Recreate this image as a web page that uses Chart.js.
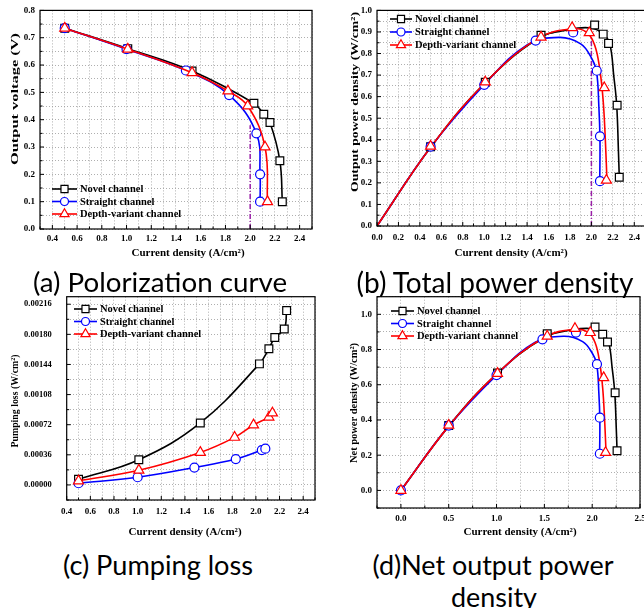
<!DOCTYPE html>
<html><head><meta charset="utf-8">
<script src="https://cdn.jsdelivr.net/npm/chart.js@4/dist/chart.umd.min.js"></script>
<style>
html,body{margin:0;padding:0;background:#fff;overflow:hidden;width:644px;height:608px;position:relative;}
canvas{position:absolute;}
.sub{position:absolute;font-family:Lato,"Open Sans",sans-serif;font-size:27px;color:#000;white-space:nowrap;transform:translate(-50%,-50%);line-height:1;}
</style></head><body>
<canvas id="ca" width="322" height="265" style="left:0;top:0;width:322px;height:265px"></canvas>
<canvas id="cb" width="330" height="265" style="left:322px;top:0;width:330px;height:265px"></canvas>
<canvas id="cc" width="322" height="280" style="left:0;top:265px;width:322px;height:280px"></canvas>
<canvas id="cd" width="330" height="280" style="left:322px;top:265px;width:330px;height:280px"></canvas>
<div class="sub" id="sa" data-w="254" style="left:160px;top:282px">(a) Polorization curve</div>
<div class="sub" id="sb" data-w="277" style="left:495px;top:282px">(b) Total power density</div>
<div class="sub" id="sc" data-w="190" style="left:158px;top:565px">(c) Pumping loss</div>
<div class="sub" id="sd" data-w="241" style="left:493px;top:565px">(d)Net output power</div>
<div class="sub" id="sd2" style="left:494px;top:597px">density</div>
<script>
// ---------- data ----------
const seriesNames = ['Novel channel', 'Straight channel', 'Depth-variant channel'];

// (a) polarization curve: current density (A/cm2) vs output voltage (V)
const aNovelX = [0.5, 1.01, 1.53, 2.03, 2.11, 2.16, 2.24, 2.26];
const aNovelV = [0.735, 0.66, 0.578, 0.46, 0.42, 0.39, 0.25, 0.10];
const aStraightX = [0.5, 1.0, 1.48, 1.83, 2.05, 2.08, 2.08];
const aStraightV = [0.735, 0.658, 0.58, 0.49, 0.35, 0.20, 0.10];
const aDepthX = [0.5, 1.01, 1.53, 1.82, 1.98, 2.12, 2.14];
const aDepthV = [0.735, 0.658, 0.572, 0.505, 0.45, 0.30, 0.10];
const aRefX = [2.0, 2.0];
const aRefY = [0.0, 0.38];

// (b) total power density (W/cm2) markers
const bNovelX = [0.5, 1.01, 1.53, 2.03, 2.11, 2.16, 2.24, 2.26];
const bNovelP = [0.368, 0.667, 0.885, 0.932, 0.89, 0.847, 0.56, 0.226];
const bStraightX = [0.5, 1.0, 1.48, 1.83, 2.05, 2.08, 2.08];
const bStraightP = [0.368, 0.655, 0.86, 0.898, 0.72, 0.416, 0.208];
const bDepthX = [0.5, 1.01, 1.53, 1.82, 1.98, 2.12, 2.14];
const bDepthP = [0.37, 0.668, 0.876, 0.92, 0.896, 0.641, 0.212];
// (b) fitted curves
const bNovelCurveX = [0, 0.5, 1.0, 1.5, 1.8, 2.0, 2.11, 2.17, 2.21, 2.236, 2.252, 2.26];
const bNovelCurveY = [0, 0.365, 0.66, 0.868, 0.912, 0.918, 0.89, 0.848, 0.69, 0.56, 0.35, 0.226];
const bStraightCurveX = [0, 0.5, 1.0, 1.4, 1.7, 1.9, 2.0, 2.047, 2.07, 2.08, 2.078];
const bStraightCurveY = [0, 0.365, 0.655, 0.84, 0.875, 0.845, 0.78, 0.719, 0.55, 0.4, 0.208];
const bDepthCurveX = [0, 0.5, 1.0, 1.5, 1.82, 1.95, 2.03, 2.08, 2.11, 2.13, 2.145];
const bDepthCurveY = [0, 0.365, 0.66, 0.87, 0.915, 0.9, 0.84, 0.72, 0.58, 0.4, 0.212];
const bRefX = [2.0, 2.0];
const bRefY = [0.0, 0.88];

// (c) pumping loss (W/cm2)
const cNovelX = [0.5, 1.01, 1.53, 2.03, 2.11, 2.16, 2.24, 2.26];
const cNovelL = [0.000068, 0.000301, 0.000741, 0.001447, 0.001627, 0.001763, 0.001863, 0.002084];
const cStraightX = [0.5, 1.0, 1.48, 1.83, 2.05, 2.08];
const cStraightL = [0.00002, 0.000092, 0.000208, 0.000309, 0.000417, 0.000433];
const cDepthX = [0.5, 1.01, 1.53, 1.82, 1.98, 2.11, 2.14];
const cDepthL = [0.000048, 0.000176, 0.000389, 0.000569, 0.000717, 0.00081, 0.00086];

// (d) net output power density (W/cm2)
const dNovelX = [0.5, 1.01, 1.53, 2.03, 2.11, 2.16, 2.24, 2.26];
const dNovelP = [0.368, 0.667, 0.89, 0.928, 0.887, 0.843, 0.555, 0.225];
const dStraightX = [0, 0.5, 1.0, 1.48, 1.83, 2.05, 2.08, 2.08];
const dStraightP = [0, 0.368, 0.655, 0.858, 0.896, 0.717, 0.413, 0.208];
const dDepthX = [0, 0.5, 1.01, 1.53, 1.82, 1.98, 2.12, 2.14];
const dDepthP = [0, 0.37, 0.664, 0.875, 0.919, 0.896, 0.64, 0.215];
const dNovelCurveX = [0, 0.5, 1.0, 1.5, 1.8, 2.0, 2.11, 2.17, 2.21, 2.236, 2.252, 2.26];
const dNovelCurveY = [0, 0.365, 0.66, 0.868, 0.912, 0.918, 0.888, 0.845, 0.69, 0.555, 0.35, 0.225];
const dStraightCurveX = [0, 0.5, 1.0, 1.4, 1.7, 1.9, 2.0, 2.047, 2.07, 2.08, 2.078];
const dStraightCurveY = [0, 0.365, 0.655, 0.84, 0.875, 0.845, 0.78, 0.717, 0.55, 0.4, 0.208];
const dDepthCurveX = [0, 0.5, 1.0, 1.5, 1.82, 1.95, 2.03, 2.08, 2.11, 2.13, 2.145];
const dDepthCurveY = [0, 0.365, 0.66, 0.87, 0.915, 0.9, 0.84, 0.72, 0.58, 0.4, 0.215];

// ---------- styling helpers ----------
const COLORS = ['#000000', '#0000ff', '#ff0000'];
const STYLES = ['rect', 'circle', 'triangle'];
const RADII = [5.5, 4.5, 5.8];
const SERIF = '"Liberation Serif", "Times New Roman", serif';

const pts = (xs, ys) => xs.map((x, i) => ({x: x, y: ys[i]}));

function markerSet(i, xs, ys, withLine) {
  return {
    data: pts(xs, ys), showLine: !!withLine, tension: 0.4,
    borderColor: COLORS[i], borderWidth: 1.6,
    pointStyle: STYLES[i], pointRadius: RADII[i], pointHoverRadius: RADII[i],
    pointBackgroundColor: '#ffffff', pointBorderColor: COLORS[i], pointBorderWidth: 1.2,
    order: 2 - i
  };
}
function curveSet(i, xs, ys) {
  return {data: pts(xs, ys), showLine: true, tension: 0.4, borderColor: COLORS[i], borderWidth: 1.6,
          pointRadius: 0, order: 12 - i};
}
function refSet(xs, ys) {
  return {data: pts(xs, ys), showLine: true, borderColor: '#9a1fa8', borderWidth: 1.5,
          borderDash: [5, 2, 1, 2], pointRadius: 0, order: 20};
}

function axis(min, max, step, labelEvery, decimals, pad, fitProp, fitVal, fontSize) {
  const m = Math.round(labelEvery / step);
  return {
    type: 'linear', min: min, max: max,
    ticks: {
      stepSize: step, includeBounds: false, autoSkip: false, maxRotation: 0, minRotation: 0, padding: pad, color: '#000',
      font: {family: SERIF, weight: 'bold', size: fontSize || 9},
      callback: (v) => {
        const k = Math.round(v / step);
        return (Math.abs(v - k * step) < step * 1e-3 && k % m === 0) ? v.toFixed(decimals) : '';
      }
    },
    grid: {color: '#9a9a9a', lineWidth: 0.8, drawTicks: false},
    border: {display: false, dash: [1, 2]},
    afterFit: (s) => { s[fitProp] = fitVal; }
  };
}

const panelPlugin = {
  id: 'panel',
  afterDraw(chart, args, o) {
    const ctx = chart.ctx, ca = chart.chartArea;
    const xs = chart.scales.x, ys = chart.scales.y;
    ctx.save();
    ctx.setLineDash([]);
    ctx.strokeStyle = '#000';
    ctx.lineWidth = 1.2;
    ctx.strokeRect(ca.left, ca.top, ca.right - ca.left, ca.bottom - ca.top);
    ctx.lineWidth = 1;
    xs.ticks.forEach(t => {
      const p = xs.getPixelForValue(t.value);
      const L = t.label ? 4 : 2.5;
      ctx.beginPath(); ctx.moveTo(p, ca.bottom); ctx.lineTo(p, ca.bottom - L); ctx.stroke();
    });
    ys.ticks.forEach(t => {
      const p = ys.getPixelForValue(t.value);
      const L = t.label ? 4 : 2.5;
      ctx.beginPath(); ctx.moveTo(ca.left, p); ctx.lineTo(ca.left + L, p); ctx.stroke();
    });
    // x title
    ctx.fillStyle = '#000';
    ctx.textAlign = 'center';
    ctx.textBaseline = 'middle';
    ctx.font = 'bold 11px ' + SERIF;
    ctx.fillText(o.xTitle, o.xTitleX, o.xTitleY);
    // y title (stretched along its length as in the figure)
    ctx.save();
    ctx.translate(o.yTitleX, o.yTitleY);
    ctx.rotate(-Math.PI / 2);
    ctx.font = 'bold ' + o.yTitleSize + 'px ' + SERIF;
    const w = ctx.measureText(o.yTitle).width;
    ctx.scale(o.yTitleLen / w, 1);
    ctx.fillText(o.yTitle, 0, 0);
    ctx.restore();
    // legend
    ctx.font = 'bold 10.5px ' + SERIF;
    ctx.textAlign = 'left';
    seriesNames.forEach((name, i) => {
      const y = o.legY + i * o.legDy;
      ctx.strokeStyle = COLORS[i];
      ctx.lineWidth = 1.6;
      ctx.beginPath(); ctx.moveTo(o.legX0, y); ctx.lineTo(o.legX1, y); ctx.stroke();
      ctx.fillStyle = '#ffffff';
      ctx.strokeStyle = COLORS[i];
      ctx.lineWidth = 1.2;
      Chart.helpers.drawPoint(ctx, {pointStyle: STYLES[i], rotation: 0, radius: RADII[i] - 0.5, borderWidth: 1.2},
        (o.legX0 + o.legX1) / 2, y);
      ctx.fillStyle = '#000';
      ctx.fillText(name, o.legX1 + 3, y + 0.5);
    });
    ctx.restore();
  }
};

function make(id, datasets, xAxis, yAxis, padding, panel) {
  return new Chart(document.getElementById(id), {
    type: 'scatter',
    data: {datasets: datasets},
    options: {
      responsive: false, animation: false, events: [],
      layout: {padding: padding},
      plugins: {legend: {display: false}, tooltip: {enabled: false}, panel: panel},
      scales: {x: xAxis, y: yAxis}
    },
    plugins: [panelPlugin]
  });
}

// (a)
make('ca', [
  markerSet(0, aNovelX, aNovelV, true),
  markerSet(1, aStraightX, aStraightV, true),
  markerSet(2, aDepthX, aDepthV, true),
  refSet(aRefX, aRefY)
], axis(0.3, 2.5, 0.1, 0.2, 1, 4.5, 'height', 36),
   axis(0, 0.8, 0.05, 0.1, 1, 5, 'width', 40),
   {top: 10, right: 10, left: 0, bottom: 0},
   {xTitle: 'Current density (A/cm²)', xTitleX: 188, xTitleY: 253,
    yTitle: 'Output voltage (V)', yTitleX: 15.5, yTitleY: 99, yTitleSize: 11, yTitleLen: 132,
    legX0: 52, legX1: 77, legY: 189, legDy: 12.5});

// (b)
make('cb', [
  markerSet(0, bNovelX, bNovelP, false),
  markerSet(1, bStraightX, bStraightP, false),
  markerSet(2, bDepthX, bDepthP, false),
  curveSet(0, bNovelCurveX, bNovelCurveY),
  curveSet(1, bStraightCurveX, bStraightCurveY),
  curveSet(2, bDepthCurveX, bDepthCurveY),
  refSet(bRefX, bRefY)
], axis(0, 2.5, 0.1, 0.2, 1, 6, 'height', 39),
   axis(0, 1.0, 0.05, 0.1, 1, 5, 'width', 55),
   {top: 10, right: 6, left: 0, bottom: 0},
   {xTitle: 'Current density (A/cm²)', xTitleX: 189, xTitleY: 253,
    yTitle: 'Output power density (W/cm²)', yTitleX: 33, yTitleY: 102, yTitleSize: 11, yTitleLen: 180,
    legX0: 68, legX1: 90, legY: 19, legDy: 13});

// (c)
make('cc', [
  markerSet(0, cNovelX, cNovelL, true),
  markerSet(1, cStraightX, cStraightL, true),
  markerSet(2, cDepthX, cDepthL, true)
], axis(0.4, 2.5, 0.1, 0.2, 1, 6, 'height', 45),
   axis(-0.00018, 0.00225, 0.00018, 0.00036, 5, 15, 'width', 66.7, 8.5),
   {top: 31.7, right: 7, left: 0, bottom: 0},
   {xTitle: 'Current density (A/cm²)', xTitleX: 185, xTitleY: 267,
    yTitle: 'Pumping loss (W/cm²)', yTitleX: 15, yTitleY: 136, yTitleSize: 11, yTitleLen: 93,
    legX0: 74, legX1: 97, legY: 44, legDy: 12.5});

// (d)
make('cd', [
  markerSet(0, dNovelX, dNovelP, false),
  markerSet(1, dStraightX, dStraightP, false),
  markerSet(2, dDepthX, dDepthP, false),
  curveSet(0, dNovelCurveX, dNovelCurveY),
  curveSet(1, dStraightCurveX, dStraightCurveY),
  curveSet(2, dDepthCurveX, dDepthCurveY)
], axis(-0.25, 2.5, 0.25, 0.5, 1, 5.5, 'height', 37),
   axis(-0.1, 1.1, 0.1, 0.2, 1, 5, 'width', 55),
   {top: 31.7, right: 12, left: 0, bottom: 0},
   {xTitle: 'Current density (A/cm²)', xTitleX: 198, xTitleY: 267,
    yTitle: 'Net power density (W/cm²)', yTitleX: 32, yTitleY: 138, yTitleSize: 11, yTitleLen: 120,
    legX0: 69, legX1: 92, legY: 46, legDy: 12.5});

// fit caption widths to the figure
function fitCaption(id) {
  const el = document.getElementById(id);
  const target = parseFloat(el.dataset.w);
  const base = parseFloat(getComputedStyle(el).fontSize);
  const w = el.getBoundingClientRect().width;
  const size = base * target / w;
  el.style.fontSize = size + 'px';
  return size;
}
function fitAll() {
  fitCaption('sa'); fitCaption('sb'); fitCaption('sc');
  const s = fitCaption('sd');
  document.getElementById('sd2').style.fontSize = s + 'px';
}
if (document.fonts && document.fonts.ready) { document.fonts.ready.then(fitAll); } else { fitAll(); }
fitAll();
</script>
</body></html>
